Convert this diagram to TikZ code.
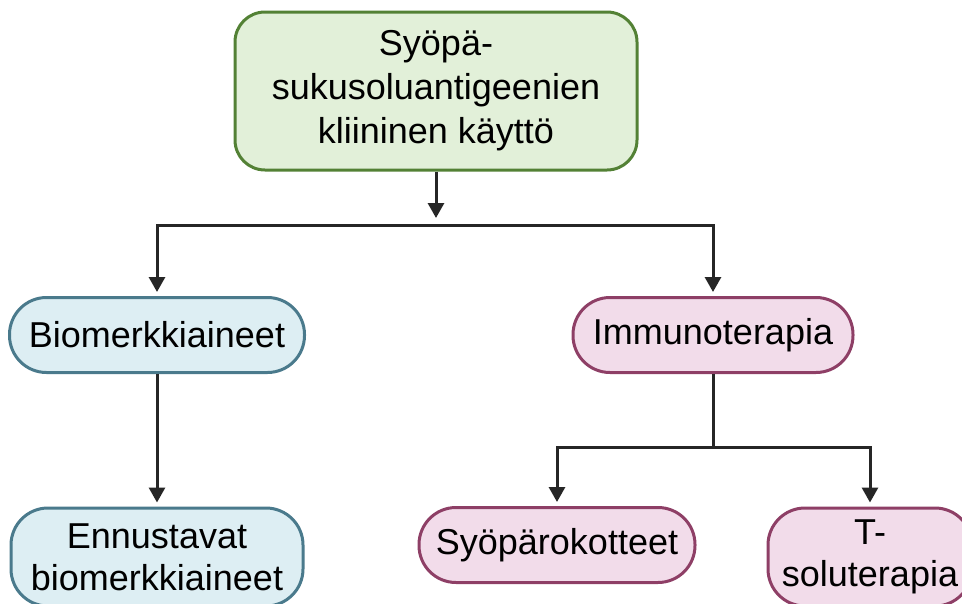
\documentclass[tikz,border=0pt]{standalone}
\usepackage{fontspec}
\setmainfont{Liberation Sans}
\usepackage{tikz}
\usetikzlibrary{arrows.meta}
\definecolor{top_fill}{HTML}{E2F0D9}
\definecolor{top_line}{HTML}{538135}
\definecolor{bio_fill}{HTML}{DDEEF3}
\definecolor{bio_line}{HTML}{4A7A8C}
\definecolor{imm_fill}{HTML}{F2DCEA}
\definecolor{imm_line}{HTML}{8E3F66}
\definecolor{arrow_gray}{HTML}{262626}

\tikzset{
	box/.style={draw, line width=3pt, align=center, inner sep=0pt, font=\fontsize{36}{42}\selectfont},
	greenbox/.style={box, fill=top_fill, draw=top_line, rounded corners=30pt},
	bluebox/.style={box, fill=bio_fill, draw=bio_line, rounded corners=37pt},
	pinkbox/.style={box, fill=imm_fill, draw=imm_line, rounded corners=37pt},
	link/.style={draw=arrow_gray, line width=3pt},
	arr/.style={link, -{Triangle[length=15pt, width=16pt]}, shorten >=4pt}
}

\begin{document}
\begin{tikzpicture}[x=1pt, y=-1pt]
	\useasboundingbox (0, 0) rectangle (962, 603);
	\clip (0, 0) rectangle (962, 603);
	\coordinate (fork) at (436, 225);
	\coordinate (fork2) at (713, 447);
	\node[greenbox, minimum width=402pt, minimum height=158pt] (kaytto) at (436, 91) {Syöpä-\\[2pt]sukusoluantigeenien\\[2pt]kliininen käyttö};
	\node[bluebox, minimum width=295pt, minimum height=75pt] (bio) at (157, 335) {Biomerkkiaineet};
	\node[pinkbox, minimum width=280pt, minimum height=75pt] (immuno) at (713, 335) {Immunoterapia};
	\node[bluebox, minimum width=292pt, minimum height=98pt] (ennuste) at (157, 557) {Ennustavat\\biomerkkiaineet};
	\node[pinkbox, minimum width=276pt, minimum height=75pt] (rokote) at (557, 545) {Syöpärokotteet};
	\node[pinkbox, minimum width=204pt, minimum height=98pt] (tsolu) at (870, 557) {T-\\soluterapia};
	\draw[arr, shorten >=7pt] (kaytto) -- (fork);
	\draw[arr] (fork) -| (bio);
	\draw[arr] (fork) -| (immuno);
	\draw[arr] (bio) -- (ennuste);
	\draw[link] (immuno) -- (fork2);
	\draw[arr] (fork2) -| (rokote);
	\draw[arr] (fork2) -| (tsolu);
\end{tikzpicture}
\end{document}
